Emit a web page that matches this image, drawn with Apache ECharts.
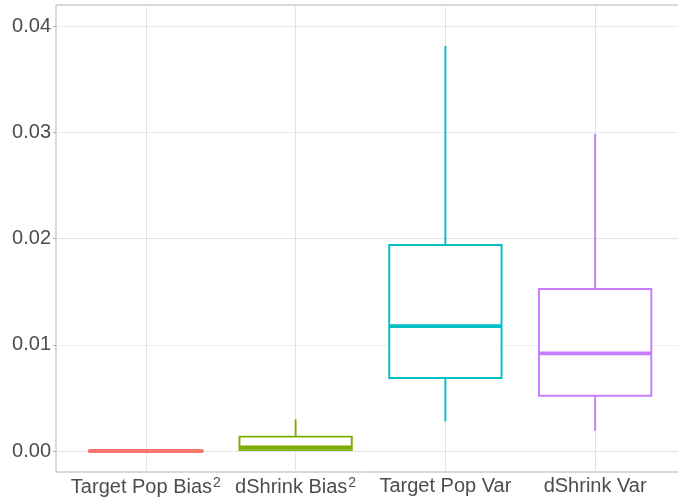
<!DOCTYPE html>
<html>
<head>
<meta charset="utf-8">
<script src="https://cdn.jsdelivr.net/npm/echarts@6/dist/echarts.min.js"></script>
<style>
html,body{margin:0;padding:0;background:#fff;}
#chart{width:678px;height:504px;}
</style>
</head>
<body>
<div id="chart"></div>
<script>
// ---- data ----
const categories = ['Target Pop Bias²', 'dShrink Bias²', 'Target Pop Var', 'dShrink Var'];
const whiskerLow  = [0, 0,       0.00278, 0.00190];
const q1          = [0, 0.00008, 0.00687, 0.00520];
const median      = [0, 0.00035, 0.01176, 0.00919];
const q3          = [0, 0.00135, 0.01939, 0.01525];
const whiskerHigh = [0, 0.00298, 0.03812, 0.02984];
const boxColors   = ['#F8766D', '#7CAE00', '#00BFC4', '#C77CFF'];
const yTicks      = [0, 0.01, 0.02, 0.03, 0.04];
const yMinorTicks = [0.005, 0.015, 0.025, 0.035];

const boxData = categories.map((c, i) => [i + 1, whiskerLow[i], q1[i], median[i], q3[i], whiskerHigh[i]]);

const chart = echarts.init(document.getElementById('chart'), null, {renderer: 'canvas'});

const gridLines = [];
yTicks.forEach(v => gridLines.push({yAxis: v, lineStyle: {color: '#e3e3e3', width: 1, type: 'solid'}}));
yMinorTicks.forEach(v => gridLines.push({yAxis: v, lineStyle: {color: '#ececec', width: 0.8, type: 'solid'}}));
categories.forEach((c, i) => gridLines.push({xAxis: i + 1, lineStyle: {color: '#e3e3e3', width: 1, type: 'solid'}}));

const FONT = 'Liberation Sans, Arial, sans-serif';

const option = {
  animation: false,
  backgroundColor: '#ffffff',
  grid: {
    left: 56, top: 5, width: 629, bottom: 32,
    containLabel: false, outerBoundsMode: 'none',
    show: true, borderColor: '#b3b3b3', borderWidth: 1, backgroundColor: 'transparent'
  },
  xAxis: {
    type: 'value', min: 0.4, max: 4.6,
    axisLine: {show: false},
    splitLine: {show: false},
    axisTick: {show: true, customValues: [1, 2, 3, 4], length: 3, lineStyle: {color: '#b3b3b3'}},
    axisLabel: {
      customValues: [1, 2, 3, 4],
      margin: 4,
      color: '#4d4d4d', fontFamily: FONT, fontSize: 20,
      formatter: v => {
        const s = categories[Math.round(v) - 1] || '';
        return s.replace('²', '{sup|2}');
      },
      rich: {
        sup: {fontSize: 14, color: '#4d4d4d', fontFamily: FONT, verticalAlign: 'top', padding: [0, 0, 8, 1]}
      }
    }
  },
  yAxis: {
    type: 'value', min: -0.001976, max: 0.041976,
    axisLine: {show: false},
    splitLine: {show: false},
    axisTick: {show: true, customValues: yTicks, length: 3, lineStyle: {color: '#b3b3b3'}},
    axisLabel: {
      customValues: yTicks,
      margin: 5,
      color: '#4d4d4d', fontFamily: FONT, fontSize: 20,
      formatter: v => v.toFixed(2)
    }
  },
  series: [
    {
      type: 'line', data: [], z: 0, silent: true,
      markLine: {
        silent: true, symbol: ['none', 'none'], label: {show: false},
        animation: false, data: gridLines
      }
    },
    {
      type: 'custom', z: 5,
      data: boxData,
      renderItem: (params, api) => {
        const x = api.value(0);
        const color = boxColors[params.dataIndex];
        const half = api.size([0.75, 0])[0] / 2;
        const pLow = api.coord([x, api.value(1)]);
        const pQ1 = api.coord([x, api.value(2)]);
        const pMed = api.coord([x, api.value(3)]);
        const pQ3 = api.coord([x, api.value(4)]);
        const pHigh = api.coord([x, api.value(5)]);
        const lw = 1.9;
        return {
          type: 'group',
          children: [
            {type: 'line', shape: {x1: pLow[0], y1: pLow[1], x2: pQ1[0], y2: pQ1[1]}, style: {stroke: color, lineWidth: lw}},
            {type: 'line', shape: {x1: pQ3[0], y1: pQ3[1], x2: pHigh[0], y2: pHigh[1]}, style: {stroke: color, lineWidth: lw}},
            {type: 'rect', shape: {x: pQ1[0] - half, y: pQ3[1], width: half * 2, height: pQ1[1] - pQ3[1]},
              style: {fill: '#ffffff', stroke: color, lineWidth: lw}},
            {type: 'line', shape: {x1: pMed[0] - half, y1: pMed[1], x2: pMed[0] + half, y2: pMed[1]},
              style: {stroke: color, lineWidth: 3.8, lineCap: params.dataIndex === 0 ? 'round' : 'butt'}}
          ]
        };
      }
    }
  ]
};
chart.setOption(option);
</script>
</body>
</html>
